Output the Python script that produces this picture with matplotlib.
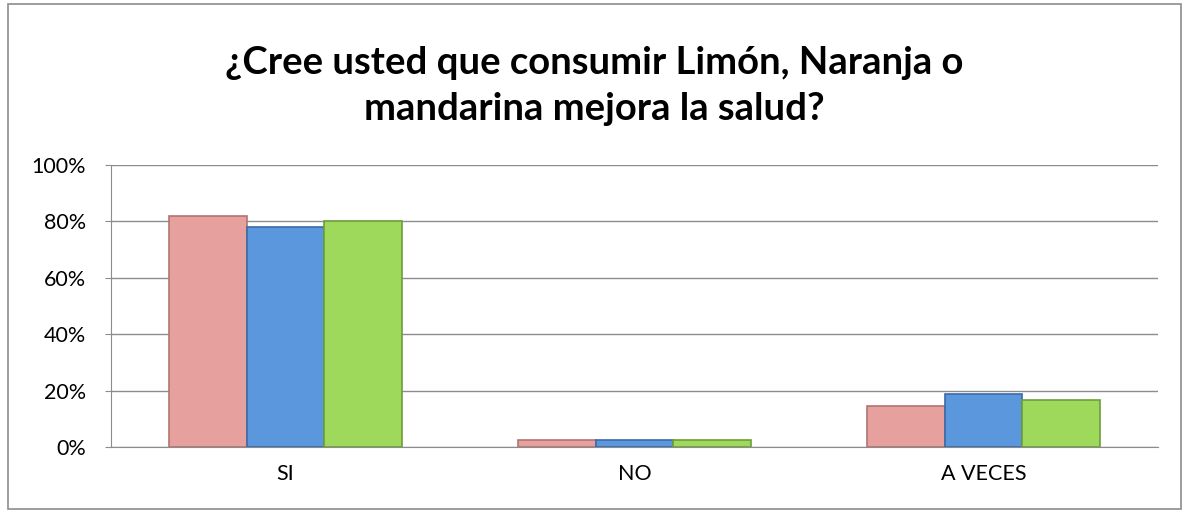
import numpy as np
import matplotlib.pyplot as plt
from matplotlib.patches import Rectangle

categories = ["SI", "NO", "A VECES"]
serie_1 = [0.82, 0.025, 0.145]
serie_2 = [0.78, 0.025, 0.187]
serie_3 = [0.80, 0.025, 0.165]
y_ticks = [0, 0.2, 0.4, 0.6, 0.8, 1.0]
y_labels = ["0%", "20%", "40%", "60%", "80%", "100%"]

colores = ["#E6A19F", "#5B97DD", "#9FD95B"]
bordes = ["#B07472", "#3C6AA6", "#6E9E3A"]

fig = plt.figure(figsize=(11.89, 5.12), dpi=100)
ax = fig.add_axes([0.0934, 0.127, 0.8806, 0.551])

x = np.arange(len(categories))
w = 0.222
for i, vals in enumerate([serie_1, serie_2, serie_3]):
    ax.bar(x + (i - 1) * w, vals, width=w, color=colores[i],
           edgecolor=bordes[i], linewidth=1.2, zorder=3)

ax.set_xlim(-0.5, 2.5)
ax.set_ylim(0, 1.0)
ax.set_yticks(y_ticks)
ax.set_yticklabels(y_labels, fontsize=15.5, family="Lato")
ax.set_xticks(x)
ax.set_xticklabels(categories, fontsize=15.5, family="Lato")
ax.yaxis.grid(True, color="#8C8C8C", linewidth=1, zorder=0)
ax.tick_params(axis="x", length=0, pad=12)
ax.tick_params(axis="y", length=4, color="#8C8C8C", pad=14)
for s in ["top", "right"]:
    ax.spines[s].set_visible(False)
for s in ["left", "bottom"]:
    ax.spines[s].set_color("#8C8C8C")

fig.text(0.5, 0.832, "¿Cree usted que consumir Limón, Naranja o\nmandarina mejora la salud?",
         ha="center", va="center", fontsize=27.5, fontweight="bold",
         family="Lato", linespacing=1.4)

fig.patches.append(Rectangle((0.007, 0.006), 0.986, 0.986, transform=fig.transFigure,
                             fill=False, edgecolor="#8C8C8C", linewidth=1.2))

fig.savefig("out.png", dpi=100)
